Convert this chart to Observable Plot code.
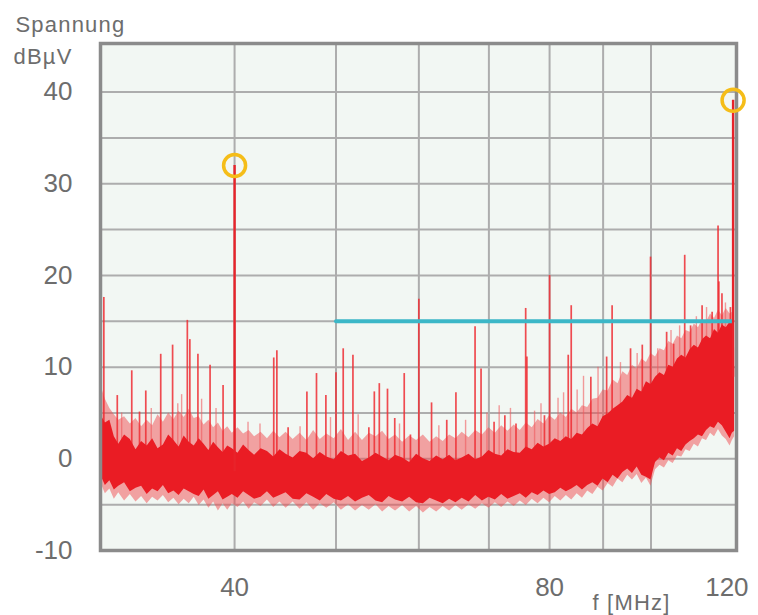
<!DOCTYPE html>
<html><head><meta charset="utf-8">
<script src="https://cdn.jsdelivr.net/npm/d3@7"></script>
<script src="https://cdn.jsdelivr.net/npm/@observablehq/plot@0.6"></script>
<style>html,body{margin:0;padding:0;background:#fff;} #chart svg{display:block;}</style>
</head><body><div id="chart"></div>
<script>
// Frequency axis values (MHz) and level values (dBµV)
const xTicks = [40, 80, 120];
const yTicks = [-10, 0, 10, 20, 30, 40];
const gridFreq = [40, 50, 60, 70, 80, 90, 100];
const gridLevel = [-5, 0, 5, 10, 15, 20, 25, 30, 35, 40];

// Noise band: frequency samples with solid core and light fringe envelopes
const bandFreq = [
  29.8, 30.1, 30.4, 30.7, 31, 31.4, 31.8, 32.2, 32.6, 33,
  33.4, 33.8, 34.2, 34.6, 35, 35.4, 35.8, 36.2, 36.6, 37,
  37.4, 37.8, 38.2, 38.6, 39, 39.4, 39.8, 40.3, 40.8, 41.3,
  41.8, 42.4, 43, 43.6, 44.2, 44.8, 45.5, 46.2, 46.9, 47.6,
  48.3, 49, 49.8, 50.6, 51.4, 52.2, 53, 53.8, 54.6, 55.4,
  56.2, 57, 57.9, 58.8, 59.7, 60.6, 61.5, 62.4, 63.3, 64.2,
  65.1, 66, 67, 68, 69, 70, 71, 72, 73, 74,
  75, 76, 77, 78, 79, 80, 81, 82, 83, 84,
  85, 86, 87, 88, 89, 90, 91, 92, 93, 94,
  95, 96, 97, 98, 99, 100, 101, 102, 103, 104,
  105, 106, 107, 108, 109, 110, 111, 112, 113, 114,
  115, 116, 117, 118, 119, 119.6, 120.2
];
const coreHigh = [
  4.8, 3.9, 4.2, 2.4, 1.6, 2.6, 2.1, 1.0, 1.9, 1.4,
  2.2, 1.1, 1.5, 2.6, 2.0, 1.3, 2.5, 1.8, 1.4, 2.2,
  1.6, 0.9, 1.8, 1.2, 0.7, 1.4, 1.1, 0.6, 1.5, 0.9,
  0.4, 1.1, 0.8, 0.2, 1.0, 0.5, 0.1, 0.8, 0.6, 0.0,
  0.7, 0.2, -0.1, 0.8, 0.3, 0.5, -0.3, 0.1, 0.6, 0.2,
  -0.2, 0.4, 0.1, -0.4, 0.5, 0.0, -0.3, 0.3, -0.1, 0.4,
  -0.2, 0.1, 0.5, -0.1, 0.2, 0.9, 0.5, 0.3, 1.0, 0.7,
  0.6, 1.3, 1.0, 1.7, 1.3, 1.6, 2.2, 1.9, 2.4, 2.1,
  2.8, 2.6, 3.3, 3.8, 3.5, 4.6, 4.9, 5.4, 5.8, 6.2,
  6.9, 6.6, 7.6, 7.3, 8.4, 8.1, 8.9, 9.4, 9.1, 10.2,
  10.0, 10.9, 11.3, 11.0, 11.9, 12.4, 12.1, 13.0, 13.4, 13.1,
  14.1, 13.7, 14.6, 14.3, 14.9, 15.0, 10.0
];
const coreLow = [
  -1.8, -2.9, -2.4, -3.4, -3.0, -2.6, -3.6, -3.2, -3.0, -3.9,
  -3.3, -3.6, -2.9, -3.8, -3.5, -4.0, -3.3, -3.6, -3.9, -4.1,
  -3.4, -4.4, -4.0, -3.6, -4.5, -4.2, -3.9, -4.3, -3.6, -4.0,
  -4.4, -4.2, -3.6, -4.3, -4.0, -3.7, -4.4, -4.5, -3.8, -4.2,
  -4.6, -3.9, -4.4, -4.6, -4.1, -4.7, -4.3, -4.0, -4.6, -4.8,
  -4.1, -4.5, -4.7, -4.2, -4.8, -4.9, -4.3, -4.6, -4.9, -4.4,
  -4.8, -4.3, -4.7, -4.0, -4.6, -4.2, -4.5, -3.9, -4.4, -4.1,
  -3.8, -4.3, -3.7, -4.0, -3.5, -3.9, -3.7, -3.2, -3.6, -3.3,
  -2.9, -3.4, -2.9, -2.6, -3.0, -2.2, -2.6, -1.8, -2.2, -1.5,
  -1.1, -1.6, -0.9, -1.8, -2.0, -2.3, -0.4, 0.1, -0.2, 0.6,
  0.3, 1.1, 0.8, 1.5, 1.9, 2.2, 2.6, 2.4, 3.1, 3.5,
  3.3, 4.0, 3.6, 2.9, 2.2, 2.8, 3.0
];
const fringeHigh = [
  8.0, 6.5, 5.5, 4.8, 4.2, 4.6, 3.8, 4.4, 3.5, 4.2,
  3.6, 4.8, 4.0, 5.0, 4.3, 5.2, 4.5, 5.4, 4.4, 4.6,
  3.7, 4.2, 3.4, 3.9, 3.0, 3.5, 2.8, 3.4, 2.7, 3.1,
  2.4, 2.9, 2.2, 3.0, 2.3, 2.9, 2.1, 2.8, 2.0, 3.1,
  2.1, 2.7, 2.2, 3.2, 2.0, 2.9, 2.0, 2.8, 2.4, 3.0,
  2.1, 2.6, 1.8, 2.5, 2.0, 2.6, 1.8, 2.4, 1.9, 2.6,
  2.2, 2.9, 2.3, 3.1, 2.6, 3.4, 2.8, 3.6, 3.0, 3.7,
  3.1, 3.9, 3.4, 4.3, 3.8, 4.7, 4.2, 5.0, 4.5, 5.4,
  5.0, 5.8, 5.6, 6.5, 6.6, 7.5, 7.4, 8.6, 8.2, 9.5,
  9.1, 10.2, 9.8, 10.9, 10.5, 11.5, 11.1, 12.0, 11.8, 12.8,
  12.5, 13.4, 13.1, 14.0, 13.8, 14.7, 14.3, 15.2, 14.9, 15.8,
  15.3, 16.2, 15.6, 16.4, 15.8, 16.0, 12.0
];
const fringeLow = [
  -2.6, -3.8, -3.3, -4.4, -3.7, -4.6, -3.9, -4.7, -4.1, -4.9,
  -4.2, -4.6, -4.0, -4.8, -4.3, -5.0, -4.4, -4.9, -4.2, -5.1,
  -4.5, -5.4, -4.7, -5.7, -4.9, -5.6, -4.9, -5.3, -4.7, -5.5,
  -4.8, -5.2, -4.5, -5.3, -4.7, -5.4, -4.7, -5.5, -4.8, -5.6,
  -4.9, -5.4, -4.8, -5.6, -5.0, -5.7, -5.1, -5.6, -5.0, -5.8,
  -5.2, -5.7, -5.1, -5.8, -5.2, -5.9, -5.3, -5.8, -5.2, -5.7,
  -5.1, -5.6, -5.0, -5.5, -4.9, -5.4, -4.8, -5.3, -4.7, -5.2,
  -4.6, -5.1, -4.4, -4.9, -4.3, -4.8, -4.1, -4.6, -4.0, -4.5,
  -3.8, -4.3, -3.5, -3.9, -3.1, -3.5, -2.7, -3.1, -2.2, -2.6,
  -1.8, -2.3, -1.7, -2.7, -2.1, -3.0, -1.2, -0.7, -1.0, -0.2,
  -0.5, 0.3, 0.2, 1.0, 0.8, 1.6, 1.3, 2.2, 2.0, 2.8,
  2.4, 3.2, 2.5, 2.1, 1.4, 2.0, 2.4
];

// Discrete spikes (MHz, dBµV)
const spikeFreq = [
  30.0, 30.9, 31.9, 32.45, 32.9, 34.0, 34.9, 36.05, 36.25, 36.9, 37.9, 39.0,
  43.6, 43.9, 45.0, 46.9, 47.9, 48.9, 50.0, 50.8, 51.9, 53.75, 54.4, 55.0,
  56.0, 56.9, 58.1, 58.9, 60.0, 61.7, 63.8, 65.1, 67.9, 68.8, 70.8, 72.5,
  74.3, 75.9, 76.1, 79.1, 80.0, 83.35, 83.9, 87.6, 90.7, 91.8, 95.6, 98.1,
  99.9, 103.5, 105.1, 107.7, 109.1, 111.9, 114.4, 115.9, 116.1, 116.9, 119.1
];
const spikeLevel = [
  17.6, 6.9, 9.6, 5.1, 7.4, 11.4, 12.4, 15.1, 13.0, 11.4, 10.2, 8.0,
  11.0, 11.8, 3.4, 7.3, 9.3, 6.9, 9.4, 12.0, 11.3, 3.4, 7.3, 8.2,
  7.6, 4.4, 9.3, 2.6, 17.4, 6.1, 4.2, 7.2, 14.4, 9.8, 4.0, 4.7,
  3.8, 16.4, 11.1, 4.7, 20.0, 11.3, 16.7, 8.9, 11.1, 16.7, 12.0, 12.4,
  22.0, 13.8, 12.5, 22.2, 14.5, 16.7, 16.0, 25.4, 19.3, 18.0, 16.5
];
// Faint minor spikes above the noise floor
const minorFreq = [
  31.2, 33.3, 35.3, 35.6, 37.2, 38.4, 41.2, 42.3, 46.2, 49.4, 52.5, 57.5,
  62.7, 66.5, 69.7, 71.6, 73.4, 77.4, 78.5, 81.5, 82.5, 85.0, 86.2, 89.0,
  93.5, 97.0, 101.5, 104.5, 106.5, 110.5, 113.0, 117.8
];
const minorLevel = [
  5.0, 5.5, 6.0, 7.0, 6.5, 5.5, 4.0, 3.8, 3.5, 4.5, 4.8, 3.8,
  3.6, 4.2, 5.0, 5.8, 5.5, 5.2, 6.0, 6.6, 7.2, 7.5, 9.0, 10.0,
  10.5, 11.5, 12.0, 14.0, 14.5, 15.5, 16.5, 17.0
];

// Marked peaks (circled) and limit line
const markedFreq = [40.0, 119.8];
const markedLevel = [32.0, 39.1];
const limitFreq = [50, 119.5];
const limitLevel = [15, 15];

const band = bandFreq.map((f, i) => ({f, lo: coreLow[i], hi: coreHigh[i], flo: fringeLow[i], fhi: fringeHigh[i]}));
// base of a spike: middle of the solid core at the nearest band sample
const baseAt = f => {
  let i = d3.bisectLeft(bandFreq, f);
  if (i >= bandFreq.length) i = bandFreq.length - 1;
  if (i > 0 && Math.abs(bandFreq[i - 1] - f) < Math.abs(bandFreq[i] - f)) i--;
  return (coreLow[i] + coreHigh[i]) / 2;
};
const spikes = spikeFreq.map((f, i) => ({f, v: spikeLevel[i], b: baseAt(f)}));
const minors = minorFreq.map((f, i) => ({f, v: minorLevel[i], b: baseAt(f)}));
const marked = markedFreq.map((f, i) => ({f, v: markedLevel[i], b: baseAt(f)}));
const limit = limitFreq.map((f, i) => ({f, v: limitLevel[i]}));

const textColor = "#6d6d6d";

const chart = Plot.plot({
  width: 758, height: 615,
  marginLeft: 100, marginRight: 22, marginTop: 43, marginBottom: 65,
  style: {fontFamily: "'Liberation Sans', Arial, sans-serif", color: textColor, background: "#ffffff", overflow: "visible"},
  x: {type: "log", domain: [29.78, 120.7]},
  y: {domain: [-10, 45.3]},
  marks: [
    Plot.frame({fill: "#f2f7f3", stroke: null}),
    Plot.ruleY(gridLevel, {stroke: "#adadad", strokeWidth: 2}),
    Plot.ruleX(gridFreq, {stroke: "#adadad", strokeWidth: 2}),
    Plot.areaY(band, {x: "f", y1: "flo", y2: "fhi", fill: "#ef4b50", fillOpacity: 0.5}),
    Plot.ruleX(minors, {x: "f", y1: "b", y2: "v", stroke: "#f05a5e", strokeWidth: 1.4, strokeOpacity: 0.6}),
    Plot.ruleX(spikes, {x: "f", y1: "b", y2: "v", stroke: "#ee2d33", strokeWidth: 1.7, strokeOpacity: 0.85}),
    Plot.areaY(band, {x: "f", y1: "lo", y2: "hi", fill: "#ea1c24"}),
    Plot.line(limit, {x: "f", y: "v", stroke: "#3cb7c7", strokeWidth: 4}),
    Plot.ruleX(marked, {x: "f", y1: "b", y2: "v", stroke: "#e8232a", strokeWidth: 2.4}),
    Plot.frame({stroke: "#8b8b8b", strokeWidth: 3.5}),
    Plot.dot(marked, {x: "f", y: "v", r: 11, stroke: "#f5bd18", strokeWidth: 3.5, fill: "none"}),
    Plot.axisY(yTicks, {tickSize: 0, tickPadding: 28, fontSize: 26, label: null, fill: textColor, tickFormat: d => String(d)}),
    Plot.axisX(xTicks.slice(0, 2), {tickSize: 0, tickPadding: 27, fontSize: 26, label: null, fill: textColor, tickFormat: d => String(d)}),
    Plot.text(xTicks.slice(2), {x: d => d, frameAnchor: "bottom", lineAnchor: "top", dy: 27, dx: -7, fontSize: 26, fill: textColor, text: d => String(d)}),
    Plot.text(["f [MHz]"], {frameAnchor: "bottom-left", dx: 531, dy: 59, textAnchor: "middle", lineAnchor: "bottom", fontSize: 22, fill: textColor}),
    Plot.text(["Spannung"], {frameAnchor: "top-left", dx: -85, dy: -12, textAnchor: "start", lineAnchor: "bottom", fontSize: 22, fill: textColor}),
    Plot.text(["dBµV"], {frameAnchor: "top-left", dx: -87, dy: 20, textAnchor: "start", lineAnchor: "bottom", fontSize: 22, fill: textColor})
  ]
});
chart.querySelectorAll("text").forEach(t => {
  const s = t.textContent;
  if (s === "Spannung" || s === "dBµV" || s === "f [MHz]") t.setAttribute("letter-spacing", "1.2");
});
document.getElementById("chart").append(chart);
</script>
</body></html>
